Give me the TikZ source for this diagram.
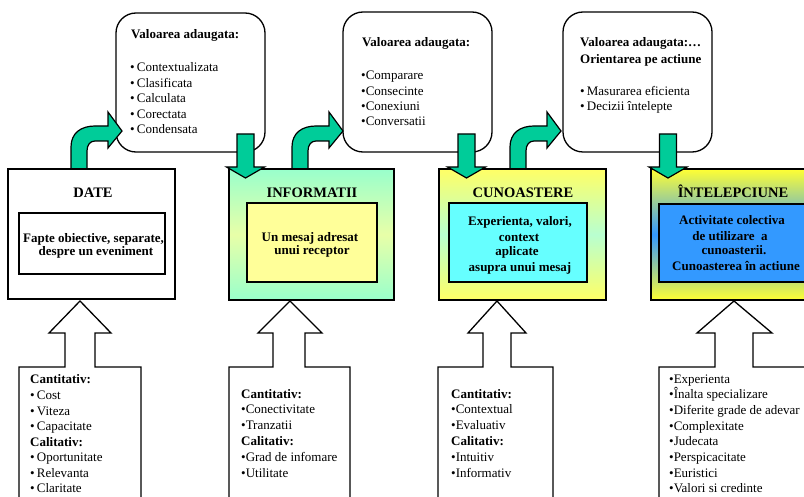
\documentclass[tikz,border=0pt]{standalone}
\usepackage{fontspec}
\setmainfont{Liberation Serif}

\definecolor{arrowgreen}{HTML}{00CC99}
\definecolor{mint}{HTML}{99FFCC}
\definecolor{mintyellow}{HTML}{E8FFA8}
\definecolor{paleyellow}{HTML}{FFFF99}
\definecolor{lemon}{HTML}{FFFF66}
\definecolor{lightaqua}{HTML}{B8FFD0}
\definecolor{aqua}{HTML}{66FFFF}
\definecolor{skyblue}{HTML}{3399FF}
\definecolor{brightyellow}{HTML}{FFFF33}

\tikzset{
  valuebox/.style={draw, line width=1.3pt, rounded corners=20pt, fill=white},
  levelbox/.style={draw, line width=1.3pt, rectangle, inner sep=0pt},
  corebox/.style={draw, line width=1.3pt, rectangle, inner sep=0pt},
  blockarrow/.style={draw, line width=1.2pt, fill=arrowgreen, line join=miter},
  stand/.style={draw, line width=1.3pt, fill=white, line join=miter},
  heading/.style={font=\fontsize{14.5}{16}\selectfont\bfseries, anchor=base, inner sep=0pt},
  coretext/.style={font=\fontsize{13}{14}\selectfont\bfseries, anchor=base, inner sep=0pt},
  body/.style={font=\fontsize{13}{15.5}\selectfont, anchor=base west, inner sep=0pt},
  turnup/.pic={
    \path[blockarrow] (0,0) -- (0,-22) .. controls (0,-36) and (10,-43) .. (24,-43)
      -- (37,-43) -- (37,-57) -- (51,-38) -- (37,-21) -- (37,-28) -- (24,-28)
      .. controls (19,-28) and (16,-24) .. (16,-18) -- (16,0) -- cycle;
  },
  dropdown/.pic={
    \path[blockarrow] (-8.5,0) -- (8.5,0) -- (8.5,33) -- (19,33) -- (0,44)
      -- (-19,33) -- (-8.5,33) -- cycle;
  },
}

\begin{document}
\begin{tikzpicture}[x=1pt,y=-1pt]
\clip (0,0) rectangle (804,497);

% rounded boxes with the added value
\node[valuebox, minimum width=149pt, minimum height=139pt] (val1) at (190.5,82.5) {};
\node[valuebox, minimum width=149pt, minimum height=140pt] (val2) at (417.5,82) {};
\node[valuebox, minimum width=149pt, minimum height=140pt] (val3) at (637.5,82) {};

\node[body, font=\fontsize{13}{15.5}\selectfont\bfseries] (val1t) at (131,39) {Valoarea adaugata:};
\foreach \txt [count=\i] in {•\,Contextualizata, •\,Clasificata, •\,Calculata, •\,Corectata, •\,Condensata}
  \node[body] (val1-\i) at (130,{72+15.5*(\i-1)}) {\txt};

\node[body, font=\fontsize{13}{15.5}\selectfont\bfseries] (val2t) at (362,47) {Valoarea adaugata:};
\foreach \txt [count=\i] in {•Comparare, •Consecinte, •Conexiuni, •Conversatii}
  \node[body] (val2-\i) at (361,{80+15.3*(\i-1)}) {\txt};

\node[body, font=\fontsize{13}{15.5}\selectfont\bfseries] (val3t) at (580,47) {Valoarea adaugata:…};
\node[body, font=\fontsize{13}{15.5}\selectfont\bfseries] (val3s) at (580,64) {Orientarea pe actiune};
\foreach \txt [count=\i] in {•\,Masurarea eficienta, •\,Decizii întelepte}
  \node[body] (val3-\i) at (580,{96+15*(\i-1)}) {\txt};

% arrows going up into the rounded boxes
\foreach \x in {71,292,510}
  \pic at (\x,169) {turnup};

% the four levels
\node[levelbox, fill=white, minimum width=167pt, minimum height=130pt] (date) at (91.5,234) {};
\node[levelbox, top color=mint, bottom color=mint, middle color=mintyellow,
  minimum width=165pt, minimum height=131pt] (info) at (311.5,234.5) {};
\node[levelbox, top color=lemon, bottom color=lemon, middle color=lightaqua,
  minimum width=167pt, minimum height=131pt] (know) at (522.5,234.5) {};
\node[levelbox, top color=brightyellow, bottom color=brightyellow, middle color=skyblue,
  minimum width=169pt, minimum height=131pt] (wisdom) at (735.5,234.5) {};

\node[corebox, fill=white, minimum width=146pt, minimum height=61pt] (datein) at (92,243.5) {};
\node[corebox, fill=paleyellow, minimum width=130pt, minimum height=79pt] (infoin) at (312,242.5) {};
\node[corebox, fill=aqua, minimum width=138pt, minimum height=79pt] (knowin) at (518,242.5) {};
\node[corebox, fill=skyblue, minimum width=156pt, minimum height=78pt] (wisdomin) at (737,243) {};

\node[heading] (datet) at (93,198) {DATE};
\node[heading] (infot) at (312,198) {INFORMATII};
\node[heading] (knowt) at (523,198) {CUNOASTERE};
\node[heading] (wisdomt) at (733,198) {ÎNTELEPCIUNE};

\node[coretext] (date-1) at (93.5,243) {Fapte obiective, separate,};
\node[coretext] (date-2) at (96,256) {despre un eveniment};

\node[coretext] (info-1) at (310,242) {Un mesaj adresat};
\node[coretext] (info-2) at (312,255) {unui receptor};

\node[coretext] (know-1) at (520,226) {Experienta, valori,};
\node[coretext] (know-2) at (519,242) {context};
\node[coretext] (know-3) at (517,256) {aplicate};
\node[coretext] (know-4) at (520,272) {asupra unui mesaj};

\node[coretext] (wisdom-1) at (732,225) {Activitate colectiva};
\node[coretext] (wisdom-2) at (730,241) {de utilizare~ a};
\node[coretext] (wisdom-3) at (734,255) {cunoasterii.};
\node[coretext] (wisdom-4) at (736,271) {Cunoasterea în actiune};

% arrows coming down from the rounded boxes
\foreach \x in {245.5,466.5,668}
  \pic at (\x,134) {dropdown};

% supports below, with the open arrows
\path[stand] (19,510) -- (19,367) -- (65,367) -- (65,333) -- (49,333) -- (80,301)
  -- (111,333) -- (95,333) -- (95,367) -- (141,367) -- (141,510) -- cycle;
\path[stand] (229,510) -- (229,367) -- (273,367) -- (273,333) -- (258,333) -- (290,301)
  -- (322,333) -- (305,333) -- (305,367) -- (350,367) -- (350,510) -- cycle;
\path[stand] (438,510) -- (438,367) -- (483,367) -- (483,333) -- (468,333) -- (497,301)
  -- (526,333) -- (511,333) -- (511,367) -- (553,367) -- (553,510) -- cycle;
\path[stand] (659,510) -- (659,367) -- (715,367) -- (715,333) -- (697,333) -- (734,301)
  -- (772,333) -- (753,333) -- (753,367) -- (830,367) -- (830,510) -- cycle;

\foreach \txt [count=\i] in {\textbf{Cantitativ:}, •\,Cost, •\,Viteza, •\,Capacitate,
    \textbf{Calitativ:}, •\,Oportunitate, •\,Relevanta, •\,Claritate}
  \node[body] (dateq-\i) at (30,{384+15.5*(\i-1)}) {\txt};
\foreach \txt [count=\i] in {\textbf{Cantitativ:}, •Conectivitate, •Tranzatii,
    \textbf{Calitativ:}, •Grad de infomare, •Utilitate}
  \node[body] (infoq-\i) at (241,{398+15.8*(\i-1)}) {\txt};
\foreach \txt [count=\i] in {\textbf{Cantitativ:}, •Contextual, •Evaluativ,
    \textbf{Calitativ:}, •Intuitiv, •Informativ}
  \node[body] (knowq-\i) at (451,{398+15.8*(\i-1)}) {\txt};
\foreach \txt [count=\i] in {•Experienta, •Înalta specializare, •Diferite grade de adevar,
    •Complexitate, •Judecata, •Perspicacitate, •Euristici, •Valori si credinte}
  \node[body] (wisdomq-\i) at (669,{383+15.7*(\i-1)}) {\txt};
\end{tikzpicture}
\end{document}
